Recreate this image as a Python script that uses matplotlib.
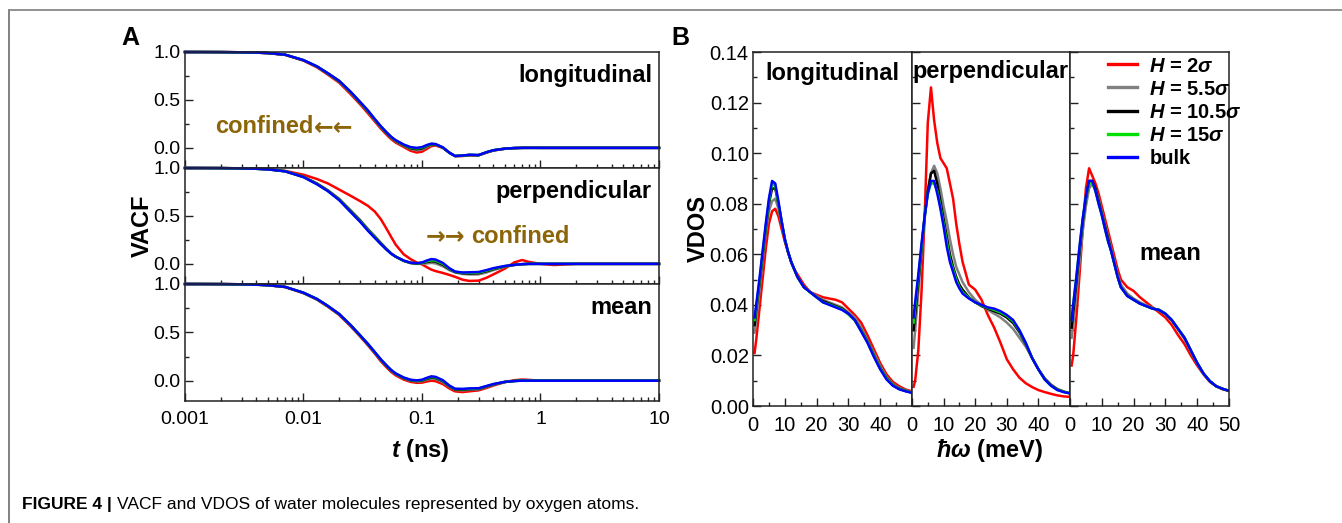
import matplotlib
matplotlib.use("Agg")
import matplotlib.pyplot as plt
from matplotlib.lines import Line2D
from matplotlib.ticker import FixedLocator, LogLocator, NullFormatter

plt.rcParams['font.family'] = ['Liberation Sans', 'DejaVu Sans']
plt.rcParams['mathtext.fontset'] = 'custom'
plt.rcParams['mathtext.it'] = 'Liberation Sans:italic:bold'
plt.rcParams['mathtext.rm'] = 'Liberation Sans:bold'
plt.rcParams['mathtext.bf'] = 'Liberation Sans:bold:italic'

# ---------------- data ----------------
series_labels = [r'$H$ = 2$\sigma$', r'$H$ = 5.5$\sigma$', r'$H$ = 10.5$\sigma$',
                 r'$H$ = 15$\sigma$', 'bulk']
series_colors = ['#ff0000', '#808080', '#000000', '#00e000', '#0000ff']

# VACF time grid (ns)
t_ns = [0.001, 0.002, 0.003, 0.004, 0.005, 0.007, 0.01, 0.013, 0.016, 0.02,
        0.025, 0.03, 0.035, 0.04, 0.045, 0.05, 0.055, 0.06, 0.07, 0.08,
        0.09, 0.1, 0.11, 0.12, 0.13, 0.15, 0.17, 0.19, 0.22, 0.25,
        0.3, 0.35, 0.4, 0.5, 0.6, 0.7, 0.8, 1.0, 1.3, 2, 3, 5, 10]

vacf_long_2 = [1.0, 0.999, 0.997, 0.993, 0.988, 0.97, 0.91, 0.84, 0.765, 0.68, 0.56, 0.455, 0.36, 0.275, 0.2,
               0.14, 0.09, 0.055, 0.01, -0.03, -0.048, -0.04, -0.01, 0.018, 0.025, 0.0, -0.05, -0.085, -0.085, -0.078,
               -0.078, -0.05, -0.028, -0.01, -0.003, 0.0, 0.003, 0.0, 0.0, 0.0, 0.0, 0.0, 0.0]
vacf_long_5 = [1.0, 0.999, 0.997, 0.994, 0.989, 0.971, 0.913, 0.846, 0.773, 0.69, 0.573, 0.468, 0.376, 0.288, 0.213,
               0.153, 0.103, 0.068, 0.022, -0.012, -0.025, -0.018, 0.01, 0.03, 0.032, 0.0, -0.05, -0.085, -0.083, -0.075,
               -0.077, -0.048, -0.026, -0.009, -0.002, 0.0, 0.0, 0.0, 0.0, 0.0, 0.0, 0.0, 0.0]
vacf_long_10 = [1.0, 0.999, 0.997, 0.994, 0.989, 0.972, 0.914, 0.848, 0.777, 0.695, 0.579, 0.474, 0.383, 0.294, 0.219,
                0.159, 0.109, 0.074, 0.028, -0.004, -0.014, -0.006, 0.02, 0.037, 0.036, 0.003, -0.05, -0.085, -0.082, -0.074,
                -0.076, -0.047, -0.025, -0.008, -0.002, 0.0, 0.0, 0.0, 0.0, 0.0, 0.0, 0.0, 0.0]
vacf_long_15 = [1.0, 0.999, 0.997, 0.994, 0.989, 0.972, 0.915, 0.849, 0.779, 0.698, 0.582, 0.477, 0.387, 0.297, 0.222,
                0.162, 0.112, 0.077, 0.032, 0.002, -0.006, 0.002, 0.025, 0.041, 0.038, 0.004, -0.05, -0.085, -0.081, -0.073,
                -0.075, -0.046, -0.025, -0.008, -0.002, 0.0, 0.0, 0.0, 0.0, 0.0, 0.0, 0.0, 0.0]
vacf_long_bulk = [1.0, 0.999, 0.997, 0.994, 0.989, 0.972, 0.915, 0.85, 0.78, 0.70, 0.585, 0.48, 0.39, 0.30, 0.225,
                  0.165, 0.115, 0.08, 0.035, 0.008, 0.0, 0.008, 0.03, 0.044, 0.04, 0.005, -0.05, -0.085, -0.08, -0.072,
                  -0.075, -0.045, -0.025, -0.008, -0.002, 0.0, 0.0, 0.0, 0.0, 0.0, 0.0, 0.0, 0.0]

vacf_perp_2 = [1.0, 0.999, 0.997, 0.993, 0.988, 0.97, 0.93, 0.885, 0.84, 0.775, 0.71, 0.655, 0.605, 0.545, 0.465,
               0.37, 0.28, 0.2, 0.1, 0.05, 0.015, -0.005, -0.035, -0.06, -0.075, -0.095, -0.115, -0.135, -0.165, -0.178,
               -0.175, -0.145, -0.11, -0.05, 0.015, 0.04, 0.02, 0.0, -0.012, 0.0, 0.0, 0.0, 0.0]
vacf_perp_5 = [1.0, 0.999, 0.996, 0.992, 0.987, 0.967, 0.91, 0.84, 0.77, 0.68, 0.56, 0.46, 0.365, 0.29, 0.22,
               0.16, 0.11, 0.075, 0.03, 0.008, 0.0, 0.0, 0.005, 0.01, 0.005, -0.025, -0.065, -0.09, -0.105, -0.11,
               -0.11, -0.09, -0.065, -0.03, -0.012, -0.004, 0.0, 0.0, 0.0, 0.0, 0.0, 0.0, 0.0]
vacf_perp_10 = [1.0, 0.999, 0.996, 0.992, 0.986, 0.966, 0.907, 0.835, 0.765, 0.672, 0.55, 0.45, 0.355, 0.28, 0.212,
                0.155, 0.107, 0.075, 0.032, 0.01, 0.004, 0.008, 0.02, 0.028, 0.024, -0.01, -0.055, -0.085, -0.098, -0.1,
                -0.097, -0.077, -0.055, -0.026, -0.011, -0.003, 0.0, 0.0, 0.0, 0.0, 0.0, 0.0, 0.0]
vacf_perp_15 = [1.0, 0.999, 0.996, 0.992, 0.986, 0.966, 0.906, 0.832, 0.762, 0.668, 0.545, 0.445, 0.35, 0.275, 0.208,
                0.152, 0.106, 0.075, 0.034, 0.011, 0.006, 0.012, 0.027, 0.037, 0.033, 0.0, -0.05, -0.083, -0.094, -0.094,
                -0.091, -0.071, -0.05, -0.024, -0.01, -0.003, 0.0, 0.0, 0.0, 0.0, 0.0, 0.0, 0.0]
vacf_perp_bulk = [1.0, 0.999, 0.996, 0.992, 0.986, 0.965, 0.905, 0.83, 0.76, 0.665, 0.54, 0.44, 0.345, 0.27, 0.205,
                  0.15, 0.105, 0.075, 0.035, 0.012, 0.007, 0.015, 0.035, 0.05, 0.045, 0.01, -0.045, -0.08, -0.09, -0.088,
                  -0.085, -0.065, -0.045, -0.022, -0.01, -0.003, 0.0, 0.0, 0.0, 0.0, 0.0, 0.0, 0.0]

vacf_mean_2 = [1.0, 0.999, 0.997, 0.993, 0.987, 0.968, 0.905, 0.838, 0.766, 0.68, 0.562, 0.458, 0.365, 0.28, 0.2,
               0.14, 0.09, 0.055, 0.012, -0.012, -0.022, -0.02, -0.008, 0.0, -0.005, -0.035, -0.08, -0.11, -0.118, -0.11,
               -0.1, -0.075, -0.05, -0.015, 0.005, 0.012, 0.008, 0.0, 0.0, 0.0, 0.0, 0.0, 0.0]
vacf_mean_5 = [1.0, 0.999, 0.997, 0.993, 0.988, 0.969, 0.908, 0.842, 0.771, 0.686, 0.57, 0.465, 0.374, 0.289, 0.212,
               0.152, 0.102, 0.067, 0.024, 0.0, -0.008, -0.005, 0.012, 0.022, 0.018, -0.015, -0.063, -0.095, -0.1, -0.095,
               -0.09, -0.065, -0.042, -0.014, -0.002, 0.004, 0.003, 0.0, 0.0, 0.0, 0.0, 0.0, 0.0]
vacf_mean_10 = [1.0, 0.999, 0.997, 0.993, 0.988, 0.97, 0.909, 0.844, 0.773, 0.688, 0.573, 0.468, 0.377, 0.292, 0.216,
                0.156, 0.106, 0.071, 0.028, 0.005, -0.003, 0.002, 0.02, 0.032, 0.028, -0.005, -0.057, -0.09, -0.093, -0.088,
                -0.085, -0.06, -0.039, -0.013, -0.003, 0.002, 0.001, 0.0, 0.0, 0.0, 0.0, 0.0, 0.0]
vacf_mean_15 = [1.0, 0.999, 0.997, 0.993, 0.988, 0.97, 0.91, 0.845, 0.774, 0.689, 0.574, 0.469, 0.379, 0.294, 0.218,
                0.158, 0.108, 0.073, 0.031, 0.008, 0.0, 0.006, 0.025, 0.039, 0.034, 0.0, -0.053, -0.086, -0.088, -0.084,
                -0.081, -0.057, -0.037, -0.012, -0.003, 0.001, 0.0, 0.0, 0.0, 0.0, 0.0, 0.0, 0.0]
vacf_mean_bulk = [1.0, 0.999, 0.997, 0.993, 0.988, 0.97, 0.91, 0.845, 0.775, 0.69, 0.575, 0.47, 0.38, 0.295, 0.22,
                  0.16, 0.11, 0.075, 0.033, 0.01, 0.003, 0.01, 0.03, 0.045, 0.04, 0.005, -0.05, -0.083, -0.085, -0.08,
                  -0.078, -0.055, -0.035, -0.012, -0.004, 0.0, 0.0, 0.0, 0.0, 0.0, 0.0, 0.0, 0.0]

# VDOS energy grid (meV)
energy_meV = [0.5, 1, 2, 3, 4, 5, 6, 7, 8, 9, 10, 11, 12, 13, 14, 15, 16, 18, 20, 22,
              24, 26, 28, 30, 32, 34, 36, 38, 40, 42, 44, 46, 48, 50]

vdos_long_2 = [0.021, 0.026, 0.038, 0.05, 0.062, 0.072, 0.077, 0.078, 0.075, 0.07, 0.065, 0.061, 0.057, 0.054, 0.052,
               0.05, 0.048, 0.045, 0.044, 0.043, 0.0425, 0.042, 0.041, 0.0385, 0.036, 0.033, 0.028, 0.0225, 0.017, 0.0125,
               0.0095, 0.0078, 0.0065, 0.0058]
vdos_long_5 = [0.029, 0.034, 0.045, 0.057, 0.068, 0.077, 0.081, 0.082, 0.078, 0.072, 0.066, 0.061, 0.057, 0.054, 0.051,
               0.049, 0.047, 0.045, 0.0435, 0.042, 0.041, 0.040, 0.039, 0.037, 0.035, 0.031, 0.026, 0.021, 0.0158, 0.0115,
               0.0087, 0.0071, 0.0062, 0.0055]
vdos_long_10 = [0.032, 0.038, 0.048, 0.059, 0.07, 0.08, 0.086, 0.086, 0.08, 0.073, 0.066, 0.061, 0.057, 0.054, 0.051,
                0.049, 0.047, 0.045, 0.043, 0.0415, 0.0405, 0.0395, 0.0385, 0.0365, 0.034, 0.030, 0.0255, 0.020, 0.015, 0.011,
                0.0083, 0.0068, 0.006, 0.0053]
vdos_long_15 = [0.034, 0.039, 0.049, 0.06, 0.071, 0.081, 0.088, 0.087, 0.08, 0.073, 0.066, 0.061, 0.057, 0.054, 0.051,
                0.049, 0.047, 0.045, 0.043, 0.041, 0.0402, 0.0392, 0.0382, 0.0362, 0.0338, 0.0298, 0.0253, 0.0198, 0.0148, 0.0108,
                0.0082, 0.0067, 0.0059, 0.0053]
vdos_long_bulk = [0.035, 0.040, 0.050, 0.061, 0.072, 0.082, 0.089, 0.088, 0.081, 0.073, 0.066, 0.061, 0.057, 0.054, 0.051,
                  0.049, 0.047, 0.045, 0.043, 0.041, 0.040, 0.039, 0.038, 0.0365, 0.034, 0.0295, 0.025, 0.0195, 0.0145, 0.0105,
                  0.008, 0.0066, 0.0058, 0.0052]

vdos_perp_2 = [0.0076, 0.01, 0.022, 0.045, 0.075, 0.112, 0.126, 0.113, 0.104, 0.098, 0.096, 0.094, 0.088, 0.082, 0.072,
               0.064, 0.057, 0.048, 0.046, 0.042, 0.036, 0.031, 0.025, 0.0185, 0.0145, 0.0112, 0.009, 0.0075, 0.0063, 0.0055,
               0.0048, 0.0042, 0.0038, 0.0036]
vdos_perp_5 = [0.023, 0.03, 0.045, 0.06, 0.074, 0.085, 0.092, 0.095, 0.092, 0.086, 0.079, 0.073, 0.066, 0.06, 0.055,
               0.052, 0.049, 0.045, 0.042, 0.040, 0.038, 0.0365, 0.035, 0.033, 0.0305, 0.027, 0.0235, 0.019, 0.0145, 0.011,
               0.0085, 0.0068, 0.0058, 0.005]
vdos_perp_10 = [0.03, 0.036, 0.049, 0.062, 0.075, 0.085, 0.092, 0.093, 0.088, 0.081, 0.074, 0.067, 0.06, 0.055, 0.051,
                0.048, 0.046, 0.043, 0.041, 0.0395, 0.0385, 0.0375, 0.0365, 0.035, 0.0328, 0.0292, 0.0245, 0.019, 0.0145, 0.0107,
                0.0082, 0.0065, 0.0056, 0.005]
vdos_perp_15 = [0.033, 0.039, 0.051, 0.063, 0.075, 0.084, 0.088, 0.088, 0.085, 0.079, 0.072, 0.065, 0.058, 0.054, 0.05,
                0.047, 0.045, 0.0428, 0.041, 0.0398, 0.0388, 0.038, 0.037, 0.0356, 0.0335, 0.0298, 0.0248, 0.019, 0.0145, 0.0105,
                0.008, 0.0064, 0.0056, 0.005]
vdos_perp_bulk = [0.035, 0.041, 0.052, 0.064, 0.075, 0.084, 0.089, 0.089, 0.084, 0.078, 0.071, 0.063, 0.057, 0.053, 0.049,
                  0.0465, 0.0445, 0.0425, 0.041, 0.040, 0.039, 0.0385, 0.0375, 0.036, 0.034, 0.030, 0.025, 0.019, 0.0145, 0.0105,
                  0.008, 0.0063, 0.0055, 0.005]

vdos_mean_2 = [0.016, 0.02, 0.035, 0.052, 0.07, 0.086, 0.094, 0.091, 0.088, 0.084, 0.079, 0.074, 0.069, 0.064, 0.059,
               0.054, 0.05, 0.047, 0.0455, 0.043, 0.041, 0.039, 0.037, 0.035, 0.032, 0.028, 0.0245, 0.02, 0.016, 0.0125,
               0.0095, 0.0078, 0.0066, 0.006]
vdos_mean_5 = [0.027, 0.032, 0.044, 0.057, 0.069, 0.079, 0.086, 0.088, 0.086, 0.082, 0.077, 0.072, 0.067, 0.062, 0.057,
               0.052, 0.048, 0.0445, 0.0425, 0.041, 0.0398, 0.0388, 0.0378, 0.0362, 0.0338, 0.0302, 0.0265, 0.0215, 0.0168, 0.0127,
               0.0097, 0.0078, 0.0067, 0.006]
vdos_mean_10 = [0.031, 0.037, 0.049, 0.061, 0.073, 0.082, 0.089, 0.089, 0.086, 0.081, 0.076, 0.071, 0.066, 0.061, 0.056,
                0.051, 0.047, 0.0437, 0.042, 0.0405, 0.0395, 0.0385, 0.038, 0.0365, 0.034, 0.0305, 0.027, 0.022, 0.017, 0.0128,
                0.0098, 0.0078, 0.0068, 0.006]
vdos_mean_15 = [0.034, 0.04, 0.051, 0.063, 0.074, 0.083, 0.088, 0.088, 0.085, 0.08, 0.0755, 0.07, 0.065, 0.061, 0.056,
                0.051, 0.047, 0.0435, 0.042, 0.0405, 0.0395, 0.0385, 0.038, 0.0365, 0.034, 0.0305, 0.027, 0.022, 0.017, 0.0128,
                0.0098, 0.0078, 0.0068, 0.006]
vdos_mean_bulk = [0.034, 0.04, 0.051, 0.063, 0.074, 0.083, 0.089, 0.089, 0.085, 0.08, 0.0755, 0.07, 0.065, 0.061, 0.056,
                  0.051, 0.047, 0.0435, 0.042, 0.0405, 0.0395, 0.0385, 0.038, 0.0365, 0.034, 0.0305, 0.027, 0.022, 0.017, 0.0128,
                  0.0098, 0.0078, 0.0068, 0.006]

vacf_panels = [("longitudinal", [vacf_long_2, vacf_long_5, vacf_long_10, vacf_long_15, vacf_long_bulk]),
               ("perpendicular", [vacf_perp_2, vacf_perp_5, vacf_perp_10, vacf_perp_15, vacf_perp_bulk]),
               ("mean", [vacf_mean_2, vacf_mean_5, vacf_mean_10, vacf_mean_15, vacf_mean_bulk])]
vdos_panels = [("longitudinal", [vdos_long_2, vdos_long_5, vdos_long_10, vdos_long_15, vdos_long_bulk]),
               ("perpendicular", [vdos_perp_2, vdos_perp_5, vdos_perp_10, vdos_perp_15, vdos_perp_bulk]),
               ("mean", [vdos_mean_2, vdos_mean_5, vdos_mean_10, vdos_mean_15, vdos_mean_bulk])]

vacf_yticks = [0.0, 0.5, 1.0]
vacf_ytick_labels = ['0.0', '0.5', '1.0']
vacf_xticks = [0.001, 0.01, 0.1, 1, 10]
vacf_xtick_labels = ['0.001', '0.01', '0.1', '1', '10']
vdos_yticks = [0.0, 0.02, 0.04, 0.06, 0.08, 0.10, 0.12, 0.14]
vdos_ytick_labels = ['0.00', '0.02', '0.04', '0.06', '0.08', '0.10', '0.12', '0.14']

# ---------------- figure ----------------
W, H = 1342, 523
fig = plt.figure(figsize=(W / 100, H / 100), dpi=100)

def fr(x0, y0, x1, y1):
    return [x0 / W, 1 - y1 / H, (x1 - x0) / W, (y1 - y0) / H]

TICK_FS_A = 14
TICK_FS_B = 14.5
LABEL_FS = 17
SPINE_C = '#222222'
annot_color = '#8B6508'

def style_axes(ax, fs):
    for s in ax.spines.values():
        s.set_linewidth(1.1)
        s.set_color(SPINE_C)
    ax.tick_params(which='both', direction='in', top=False, right=False,
                   labelsize=fs, color=SPINE_C, width=1.0)
    ax.tick_params(which='major', length=6)
    ax.tick_params(which='minor', length=3)
    ax.tick_params(axis='x', which='both', pad=7)
    ax.tick_params(axis='y', which='both', pad=3)

# Panel A
a_rows = [(52, 168), (168, 284), (284, 401)]
vacf_axes = []
for i, (name, data) in enumerate(vacf_panels):
    y0, y1 = a_rows[i]
    ax = fig.add_axes(fr(185, y0, 659, y1))
    for vals, col in zip(data, series_colors):
        ax.plot(t_ns, vals, color=col, lw=1.8, clip_on=False, solid_joinstyle='round')
    ax.set_xscale('log')
    ax.set_xlim(0.001, 10)
    ax.set_ylim(-0.21, 1.0)
    style_axes(ax, TICK_FS_A)
    ax.yaxis.set_major_locator(FixedLocator(vacf_yticks))
    ax.set_yticklabels(vacf_ytick_labels)
    ax.yaxis.set_minor_locator(FixedLocator([0.25, 0.75]))
    ax.xaxis.set_major_locator(FixedLocator(vacf_xticks))
    ax.xaxis.set_minor_locator(LogLocator(base=10, subs=[2, 3, 4, 5, 6, 7, 8, 9]))
    ax.xaxis.set_minor_formatter(NullFormatter())
    if i == 2:
        ax.set_xticklabels(vacf_xtick_labels)
    else:
        ax.tick_params(labelbottom=False)
    ax.text(0.985, 0.80, name, transform=ax.transAxes, ha='right', va='center',
            fontsize=LABEL_FS, fontweight='bold')
    vacf_axes.append(ax)

fig.canvas.draw()
# annotation "confined <-<-" in top panel
c1 = vacf_axes[0].text(0.00178, 0.22, 'confined', color=annot_color, fontsize=LABEL_FS,
                       fontweight='bold', ha='left', va='center')
fig.canvas.draw()
bb1 = c1.get_window_extent()
fig.text((bb1.x1 + 1) / W, (bb1.y0 + bb1.y1) / 2 / H, '\u2190\u2190', color=annot_color,
         fontsize=LABEL_FS, fontweight='bold', ha='left', va='center', family=['DejaVu Sans'])
# annotation "->-> confined" in middle panel
c2 = vacf_axes[1].text(0.107, 0.29, '\u2192\u2192', color=annot_color, fontsize=LABEL_FS,
                       fontweight='bold', ha='left', va='center', family=['DejaVu Sans'])
fig.canvas.draw()
bb2 = c2.get_window_extent()
fig.text((bb2.x1 + 6) / W, (bb2.y0 + bb2.y1) / 2 / H, 'confined', color=annot_color,
         fontsize=LABEL_FS, fontweight='bold', ha='left', va='center')

fig.text(142 / W, 1 - 226 / H, 'VACF', rotation=90, ha='center', va='center',
         fontsize=LABEL_FS, fontweight='bold')
fig.text(420 / W, 1 - 450 / H, r'$t$ (ns)', ha='center', va='center',
         fontsize=LABEL_FS, fontweight='bold')
fig.text(130 / W, 1 - 38 / H, 'A', ha='center', va='center', fontsize=18, fontweight='bold')

# Panel B
b_cols = [(753, 912), (912, 1070), (1070, 1229)]
vdos_axes = []
for i, (name, data) in enumerate(vdos_panels):
    x0, x1 = b_cols[i]
    ax = fig.add_axes(fr(x0, 52, x1, 406))
    lines = []
    for vals, col, lab in zip(data, series_colors, series_labels):
        ln, = ax.plot(energy_meV, vals, color=col, lw=1.8, label=lab, solid_joinstyle='round')
        lines.append(ln)
    ax.set_xlim(0, 50)
    ax.set_ylim(0, 0.14)
    style_axes(ax, TICK_FS_B)
    ax.yaxis.set_major_locator(FixedLocator(vdos_yticks))
    ax.yaxis.set_minor_locator(FixedLocator([0.01, 0.03, 0.05, 0.07, 0.09, 0.11, 0.13]))
    if i == 0:
        ax.set_yticklabels(vdos_ytick_labels)
    else:
        ax.tick_params(labelleft=False)
    if i < 2:
        ax.xaxis.set_major_locator(FixedLocator([0, 10, 20, 30, 40]))
    else:
        ax.xaxis.set_major_locator(FixedLocator([0, 10, 20, 30, 40, 50]))
    ax.xaxis.set_minor_locator(FixedLocator([5, 15, 25, 35, 45]))
    vdos_axes.append(ax)

vdos_axes[0].text(0.5, 0.94, 'longitudinal', transform=vdos_axes[0].transAxes, ha='center',
                  va='center', fontsize=LABEL_FS, fontweight='bold')
vdos_axes[1].text(0.0, 0.945, 'perpendicular', transform=vdos_axes[1].transAxes, ha='left',
                  va='center', fontsize=LABEL_FS, fontweight='bold')
vdos_axes[2].text(0.63, 0.43, 'mean', transform=vdos_axes[2].transAxes, ha='center',
                  va='center', fontsize=LABEL_FS, fontweight='bold')

leg = vdos_axes[2].legend(handles=lines, loc='upper left',
                          bbox_to_anchor=((1100 - 1070) / 159, 1.01),
                          frameon=False, prop={'weight': 'bold', 'size': TICK_FS_B},
                          handlelength=1.45, handletextpad=0.6, labelspacing=0.2, borderaxespad=0.2,
                          borderpad=0.2)
for ln in leg.get_lines():
    ln.set_linewidth(2.4)

fig.text(698 / W, 1 - 228 / H, 'VDOS', rotation=90, ha='center', va='center',
         fontsize=LABEL_FS, fontweight='bold')
fig.text(990 / W, 1 - 450 / H, r'$\hbar\omega$ (meV)', ha='center', va='center',
         fontsize=LABEL_FS, fontweight='bold')
fig.text(680 / W, 1 - 38 / H, 'B', ha='center', va='center', fontsize=18, fontweight='bold')

# frame lines of the figure box
fig.add_artist(Line2D([9 / W, 9 / W], [0, 1 - 10 / H], transform=fig.transFigure,
                      color='#777777', lw=1.3))
fig.add_artist(Line2D([9 / W, 1.0], [1 - 10 / H, 1 - 10 / H], transform=fig.transFigure,
                      color='#888888', lw=1.3))

# caption
cap_y = 1 - 505 / H
t1 = fig.text(22 / W, cap_y, 'FIGURE 4 |', ha='left', va='center', fontsize=12.5, fontweight='bold')
fig.canvas.draw()
bb = t1.get_window_extent()
fig.text((bb.x1 + 5) / W, cap_y, 'VACF and VDOS of water molecules represented by oxygen atoms.',
         ha='left', va='center', fontsize=12.5)

fig.savefig('out.png', dpi=100)
